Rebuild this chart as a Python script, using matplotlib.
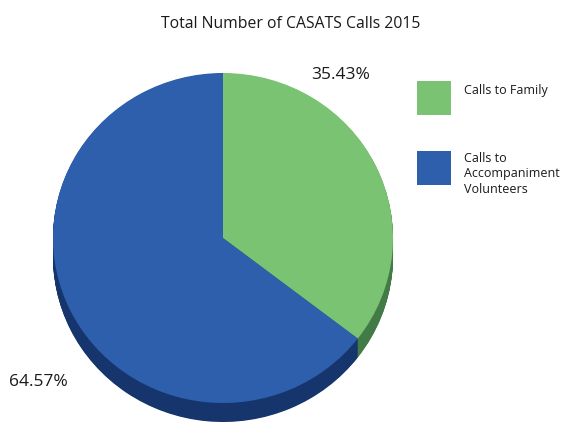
import matplotlib
matplotlib.use("Agg")
import matplotlib.pyplot as plt
from matplotlib.patches import Rectangle
import numpy as np

plt.rcParams["font.family"] = ["Open Sans", "DejaVu Sans"]

title = "Total Number of CASATS Calls 2015"
labels = ["Calls to Family", "Calls to\nAccompaniment\nVolunteers"]
shares = [35.43, 64.57]
pct_labels = ["35.43%", "64.57%"]
top_colors = ["#79C372", "#2E5FAC"]
side_colors = ["#427B46", "#15356C"]

W, H = 563, 422
fig = plt.figure(figsize=(W / 100, H / 100), dpi=100)

# pixel-coordinate overlay for text and legend
ax_txt = fig.add_axes([0, 0, 1, 1])
ax_txt.set_xlim(0, W)
ax_txt.set_ylim(H, 0)
ax_txt.axis("off")

# pie axes: top face spans x 53..393, y 73..403, extrusion down to 422
depth = 19 / 165
ax = fig.add_axes([53 / W, 0, 340 / W, (H - 73) / H])
ax.set_zorder(0)
ax_txt.set_zorder(1)
ax_txt.patch.set_alpha(0)

# stack darker copies to fake the 3d side wall
for off in np.linspace(depth, 0.004, 30):
    ax.pie(shares, colors=side_colors, startangle=90, counterclock=False,
           center=(0, -off), radius=1, wedgeprops=dict(linewidth=0))
ax.pie(shares, colors=top_colors, startangle=90, counterclock=False,
       center=(0, 0), radius=1, wedgeprops=dict(linewidth=0))
ax.set_aspect("auto")
ax.set_xlim(-1, 1)
ax.set_ylim(-1 - depth, 1)
ax.axis("off")

ax_txt.text(291, 24, title, ha="center", va="center", fontsize=11.3, color="#1A1A1A")
ax_txt.text(341, 75, pct_labels[0], ha="center", va="center", fontsize=12.5, color="#1A1A1A")
ax_txt.text(38, 382, pct_labels[1], ha="center", va="center", fontsize=12.5, color="#1A1A1A")

box_y = [81, 151]
text_dy = [3, 1]
for lab, col, y, dy in zip(labels, top_colors, box_y, text_dy):
    ax_txt.add_patch(Rectangle((417, y), 34, 34, facecolor=col, edgecolor="none"))
    ax_txt.text(464, y + dy, lab, ha="left", va="top", fontsize=9,
                color="#1A1A1A", linespacing=1.25)

fig.savefig("out.png", dpi=100)
